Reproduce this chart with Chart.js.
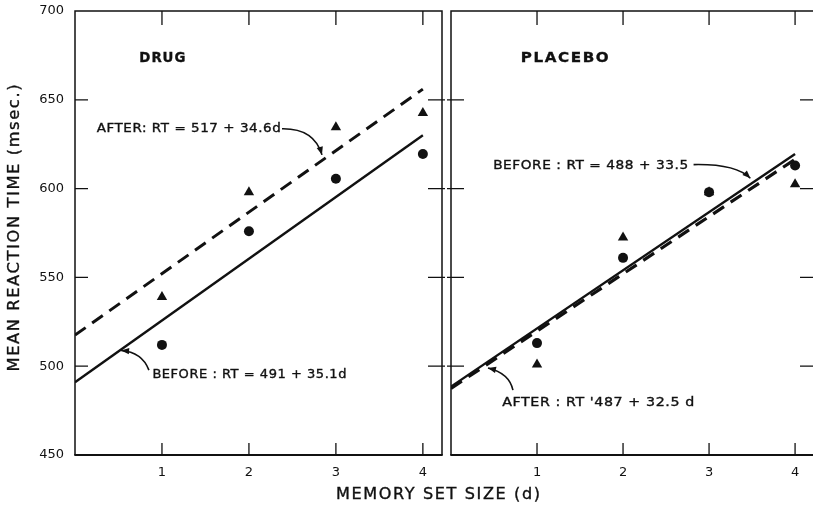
<!DOCTYPE html>
<html>
<head>
<meta charset="utf-8">
<script src="https://cdn.jsdelivr.net/npm/chart.js@4.4.1/dist/chart.umd.min.js"></script>
<style>
  html, body { margin: 0; padding: 0; background: #fff; overflow: hidden; }
  #wrap { position: relative; width: 813px; height: 507px; overflow: hidden; }
  #wrap canvas { position: absolute; top: 0; }
  #drugChart { left: 0; }
  #placeboChart { left: 445px; }
</style>
</head>
<body>
<div id="wrap">
  <canvas id="drugChart" width="813" height="507"></canvas>
  <canvas id="placeboChart" width="375" height="507"></canvas>
</div>
<script>
// Values
const setSizes = [1, 2, 3, 4];
const xTicks = [1, 2, 3, 4];
const yTicks = [450, 500, 550, 600, 650, 700];

const drugBefore = [512, 576, 605.5, 619.5];
const drugAfter = [539, 598, 634.5, 642.5];
const placeboBefore = [513, 561, 598, 613];
const placeboAfter = [501, 572.5, 598, 602.5];

// fitted lines, end points at d = 0 and d = 4
const fitEnds = [0, 4];
const drugBeforeFit = [491, 630];
const drugAfterFit = [517.5, 656];
const placeboBeforeFit = [488.5, 619.5];
const placeboAfterFit = [487.5, 616.5];

const INK = '#111';
const FONT = '"DejaVu Sans", "Liberation Sans", sans-serif';

function pairs(xs, ys) {
    return xs.map((x, i) => ({ x: x, y: ys[i] }));
}

// draw text stretched to a given width (small letter spacing + horizontal scale)
function wideText(ctx, text, x, y, width, font, align, spacing) {
    const sp = spacing || 0;
    ctx.save();
    ctx.font = font;
    ctx.letterSpacing = sp + 'px';
    const w = ctx.measureText(text).width - sp;
    const sx = width ? width / w : 1;
    const full = width || w;
    ctx.translate(align === 'center' ? x - full / 2 : x, y);
    ctx.scale(sx, 1);
    ctx.textAlign = 'left';
    ctx.textBaseline = 'middle';
    ctx.fillText(text, 0, 0);
    ctx.lineWidth = 0.35;
    ctx.strokeText(text, 0, 0);
    ctx.restore();
}

// frame with inward ticks
const framePlugin = {
    id: 'frame',
    afterDraw(chart, args, opts) {
        const { ctx, chartArea: a, scales: { x, y } } = chart;
        ctx.save();
        ctx.strokeStyle = INK;
        ctx.lineWidth = 1.5;
        ctx.beginPath();
        ctx.moveTo(a.left, a.bottom);
        ctx.lineTo(a.left, a.top);
        ctx.lineTo(a.right, a.top);
        if (opts.rightBorder) ctx.lineTo(a.right, a.bottom);
        ctx.stroke();
        ctx.lineWidth = 2.2;
        ctx.beginPath();
        ctx.moveTo(a.left - 0.7, a.bottom);
        ctx.lineTo(a.right + 0.7, a.bottom);
        ctx.stroke();

        ctx.lineWidth = 1.3;
        ctx.beginPath();
        xTicks.forEach(v => {
            const px = x.getPixelForValue(v);
            ctx.moveTo(px, a.top);
            ctx.lineTo(px, a.top + 14);
            ctx.moveTo(px, a.bottom);
            ctx.lineTo(px, a.bottom - 12);
        });
        yTicks.slice(1, -1).forEach(v => {
            const py = y.getPixelForValue(v);
            ctx.moveTo(a.left - (opts.outLeft || 0), py);
            ctx.lineTo(a.left + 13, py);
            ctx.moveTo(a.right - 14, py);
            ctx.lineTo(a.right + (opts.outRight || 0), py);
        });
        ctx.stroke();
        ctx.restore();
    }
};

// panel labels, equations and curved arrows
const notesPlugin = {
    id: 'notes',
    afterDatasetsDraw(chart, args, opts) {
        const { ctx, scales: { x, y } } = chart;
        ctx.save();
        ctx.fillStyle = INK;
        ctx.strokeStyle = INK;
        (opts.labels || []).forEach(l => {
            wideText(ctx, l.text, x.getPixelForValue(l.d), y.getPixelForValue(l.rt), l.width, l.font, 'left', l.spacing);
        });
        (opts.arrows || []).forEach(ar => {
            const p0 = [x.getPixelForValue(ar.from[0]), y.getPixelForValue(ar.from[1])];
            const c = [x.getPixelForValue(ar.ctrl[0]), y.getPixelForValue(ar.ctrl[1])];
            const p1 = [x.getPixelForValue(ar.to[0]), y.getPixelForValue(ar.to[1])];
            ctx.lineWidth = 1.6;
            ctx.beginPath();
            ctx.moveTo(p0[0], p0[1]);
            ctx.quadraticCurveTo(c[0], c[1], p1[0], p1[1]);
            ctx.stroke();
            const ang = Math.atan2(p1[1] - c[1], p1[0] - c[0]);
            const len = 8, half = 3.2;
            ctx.beginPath();
            ctx.moveTo(p1[0], p1[1]);
            ctx.lineTo(p1[0] - len * Math.cos(ang) + half * Math.sin(ang), p1[1] - len * Math.sin(ang) - half * Math.cos(ang));
            ctx.lineTo(p1[0] - len * Math.cos(ang) - half * Math.sin(ang), p1[1] - len * Math.sin(ang) + half * Math.cos(ang));
            ctx.closePath();
            ctx.fill();
        });
        ctx.restore();
    }
};

// axis titles shared by both panels
const titlesPlugin = {
    id: 'titles',
    afterDraw(chart) {
        const ctx = chart.ctx;
        ctx.save();
        ctx.fillStyle = INK;
        ctx.strokeStyle = INK;
        wideText(ctx, 'MEMORY SET SIZE (d)', 438, 495, 204, '15px ' + FONT, 'center', 1.5);
        ctx.translate(15, 228);
        ctx.rotate(-Math.PI / 2);
        wideText(ctx, 'MEAN REACTION TIME (msec.)', 0, 0, 287, '15px ' + FONT, 'center', 1.5);
        ctx.restore();
    }
};

function datasets(beforePts, afterPts, beforeFit, afterFit, dashW) {
    return [
        {
            data: pairs(fitEnds, beforeFit), showLine: true, pointRadius: 0,
            borderColor: INK, borderWidth: 2.4
        },
        {
            data: pairs(fitEnds, afterFit), showLine: true, pointRadius: 0,
            borderColor: INK, borderWidth: dashW, borderDash: [13, 8]
        },
        {
            data: pairs(setSizes, beforePts), showLine: false, pointStyle: 'circle',
            pointRadius: 5, backgroundColor: INK, borderColor: INK, borderWidth: 0
        },
        {
            data: pairs(setSizes, afterPts), showLine: false, pointStyle: 'triangle',
            pointRadius: 6, backgroundColor: INK, borderColor: INK, borderWidth: 0
        }
    ];
}

function scales(showY) {
    return {
        x: {
            type: 'linear', min: 0, max: 4.22,
            afterBuildTicks: s => { s.ticks = xTicks.map(v => ({ value: v })); },
            afterFit: s => { s.height = 52; s.paddingLeft = 0; s.paddingRight = 0; },
            grid: { display: false, drawTicks: false, tickLength: 0 },
            border: { display: false },
            ticks: { color: INK, font: { family: FONT, size: 13 }, padding: 10, maxRotation: 0 }
        },
        y: {
            type: 'linear', min: 450, max: 700, display: showY,
            afterBuildTicks: s => { s.ticks = yTicks.map(v => ({ value: v })); },
            afterFit: s => { s.width = showY ? 75 : 0; s.paddingTop = 0; s.paddingBottom = 0; },
            grid: { display: false, drawTicks: false, tickLength: 0 },
            border: { display: false },
            ticks: { color: INK, font: { family: FONT, size: 13 }, padding: 11 }
        }
    };
}

const common = {
    responsive: false,
    animation: false,
    events: [],
    plugins: { legend: { display: false }, tooltip: { enabled: false } }
};

// Drug panel
new Chart(document.getElementById('drugChart'), {
    type: 'scatter',
    data: { datasets: datasets(drugBefore, drugAfter, drugBeforeFit, drugAfterFit, 3) },
    options: Object.assign({}, common, {
        layout: { padding: { top: 11, right: 371, left: 0, bottom: 0 } },
        scales: scales(true),
        plugins: Object.assign({}, common.plugins, {
            frame: { rightBorder: true, outRight: 3 },
            notes: {
                labels: [
                    { text: 'DRUG', d: 0.74, rt: 673.6, width: 46, font: 'bold 14px ' + FONT, spacing: 1 },
                    { text: 'AFTER: RT = 517 + 34.6d', d: 0.25, rt: 633.7, width: 184, font: '12px ' + FONT, spacing: 0.5 },
                    { text: 'BEFORE : RT = 491 + 35.1d', d: 0.89, rt: 494.9, width: 194, font: '12px ' + FONT, spacing: 0.5 }
                ],
                arrows: [
                    { from: [2.38, 633.7], ctrl: [2.75, 634], to: [2.84, 619] },
                    { from: [0.85, 497.8], ctrl: [0.77, 507.9], to: [0.53, 508.8] }
                ]
            }
        })
    }),
    plugins: [framePlugin, notesPlugin, titlesPlugin]
});

// Placebo panel
new Chart(document.getElementById('placeboChart'), {
    type: 'scatter',
    data: { datasets: datasets(placeboBefore, placeboAfter, placeboBeforeFit, placeboAfterFit, 3.2) },
    options: Object.assign({}, common, {
        layout: { padding: { top: 11, right: 3, left: 2, bottom: 0 } },
        scales: scales(false),
        plugins: Object.assign({}, common.plugins, {
            frame: { rightBorder: false, outLeft: 4 },
            notes: {
                labels: [
                    { text: 'PLACEBO', d: 0.81, rt: 673.6, width: 88, font: 'bold 14px ' + FONT, spacing: 1.5 },
                    { text: 'BEFORE : RT = 488 + 33.5', d: 0.49, rt: 612.9, width: 195, font: '12px ' + FONT, spacing: 0.5 },
                    { text: "AFTER : RT '487 + 32.5 d", d: 0.595, rt: 479.2, width: 192, font: '12px ' + FONT, spacing: 0.5 }
                ],
                arrows: [
                    { from: [2.82, 613.5], ctrl: [3.31, 614], to: [3.48, 605.8] },
                    { from: [0.72, 486.5], ctrl: [0.68, 496], to: [0.43, 499] }
                ]
            }
        })
    }),
    plugins: [framePlugin, notesPlugin]
});
</script>
</body>
</html>
